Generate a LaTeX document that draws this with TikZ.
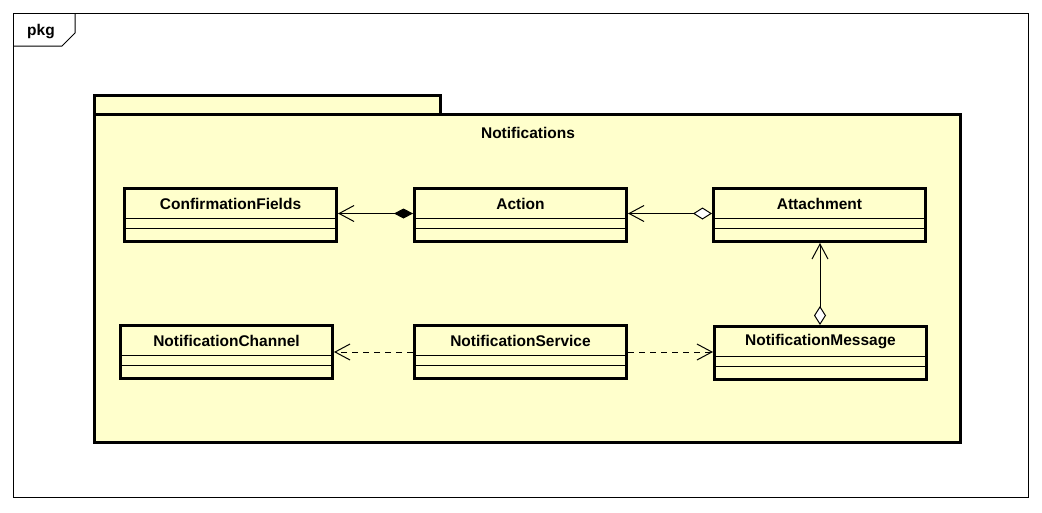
\documentclass[tikz,border=0pt]{standalone}
\usepackage{fontspec}
\setmainfont{Liberation Sans}
\usetikzlibrary{arrows.meta}
\definecolor{umlfill}{HTML}{FFFFCC}
\tikzset{
  frame/.style={draw=black,line width=1pt},
  pkgbox/.style={draw=black,line width=3pt,fill=umlfill},
  clsbox/.style={draw=black,line width=3pt,fill=umlfill,rectangle,inner sep=0pt,minimum width=212pt,minimum height=53pt,anchor=north west},
  title/.style={font=\fontsize{15.5}{18}\selectfont\bfseries,inner sep=0pt,anchor=center},
  sepline/.style={draw=black,line width=1pt},
  conn/.style={draw=black,line width=1pt},
  barb/.tip={Straight Barb[length=15pt,width=16pt,line width=1pt]},
  fdiam/.tip={Diamond[length=19pt,width=10pt,fill=black]},
  odiam/.tip={Diamond[length=19pt,width=12pt,fill=white,line width=1pt]},
  dep/.style={conn,dash pattern=on 6pt off 5pt}
}
\newcommand{\umlclass}[4]{%
  \node[clsbox] (#1) at (#2,#3) {};
  \node[title] (#1T) at ([yshift=-16.5pt]#1.north) {#4};
  \draw[sepline] ([yshift=-31pt]#1.north west) -- ([yshift=-31pt]#1.north east);
  \draw[sepline] ([yshift=-41.5pt]#1.north west) -- ([yshift=-41.5pt]#1.north east);
}
\begin{document}
\begin{tikzpicture}[x=1pt,y=-1pt]
\useasboundingbox[fill=white] (0,0) rectangle (1042,512);
% outer frame
\draw[frame] (13.5,13.5) rectangle (1028.5,497.5);
\draw[frame] (13.5,46) -- (62,46) -- (75,33) -- (75,13.5);
\node[title] (pkgT) at (41,32) {pkg};
% package
\draw[pkgbox] (94.5,114) rectangle (440,95);
\draw[pkgbox] (94.5,114) rectangle (960.5,442.5);
\node[title] (pkgName) at (528,132.5) {Notifications};
% classes
\umlclass{cf}{123}{187}{ConfirmationFields}
\umlclass{act}{413}{187}{Action}
\umlclass{att}{712}{187}{Attachment}
\umlclass{nc}{119}{324}{NotificationChannel}
\umlclass{ns}{413}{324}{NotificationService}
\umlclass{nm}{713}{325}{NotificationMessage}
% connectors
\draw[conn,{fdiam}-{barb}] ([yshift=1.5pt]act.west) -- ([yshift=1.5pt]cf.east);
\draw[conn,{odiam}-{barb}] ([yshift=1.5pt]att.west) -- ([yshift=1.5pt]act.east);
\draw[conn,{odiam}-{barb}] (nm.north -| 820,0) -- (att.south -| 820,0);
\draw[dep,-{barb}] (ns.west |- 0,352) -- (nc.east |- 0,352);
\draw[dep,-{barb}] (ns.east |- 0,352) -- (nm.west |- 0,352);
\end{tikzpicture}
\end{document}
